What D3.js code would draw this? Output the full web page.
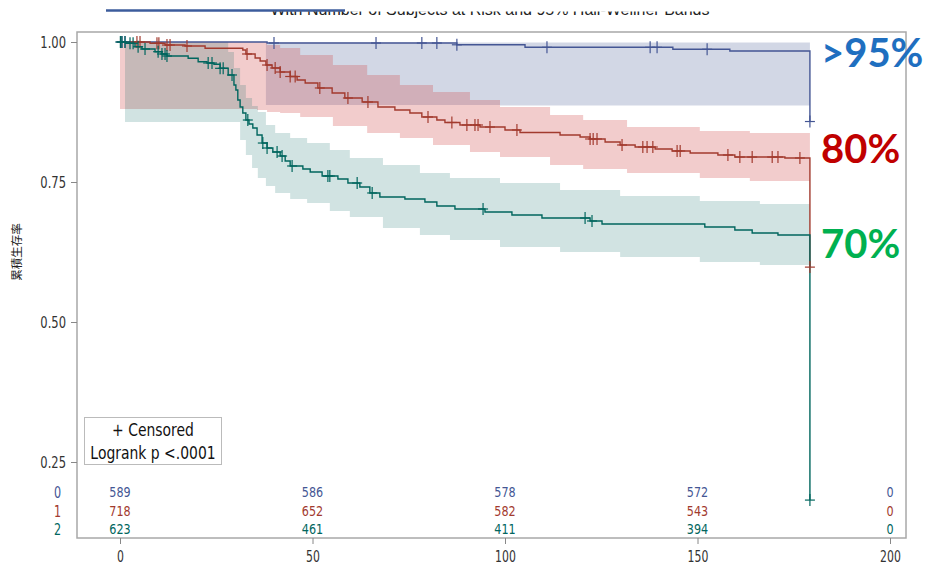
<!DOCTYPE html>
<html>
<head>
<meta charset="utf-8">
<script src="https://cdn.jsdelivr.net/npm/d3@7"></script>
<style>
  html, body { margin: 0; padding: 0; background: #fff; }
  svg { display: block; }
</style>
</head>
<body>
<svg id="chart" width="928" height="567"></svg>
<script>
// Kaplan-Meier survival by group, with 95% Hall-Wellner bands and numbers at risk.
const groups = ["0", "1", "2"];
const groupColors = ["#445694", "#A23A2E", "#01665E"];
const bandColors = ["#445694", "#D04848", "#01665E"];
const bandOpacity = [0.24, 0.28, 0.18];

// Step curves: [time, survival after the step]
const steps0 = [[0, 1.0], [38.2, 0.9982], [87.5, 0.995], [105.2, 0.9905], [143.6, 0.987], [158.4, 0.984], [179.2, 0.858]];
const steps1 = [[0, 1.0], [7.8, 0.9977], [11.7, 0.9946], [16.9, 0.9929], [22.1, 0.9888], [31.9, 0.9857], [32.7, 0.9786],
  [35.1, 0.9714], [36.4, 0.9661], [37.9, 0.9589], [39.5, 0.9536], [41.6, 0.9464], [44.2, 0.9384], [46.0, 0.9321],
  [48.1, 0.9268], [51.4, 0.9179], [55.1, 0.9089], [58.4, 0.9], [62.9, 0.8929], [67.0, 0.8839], [71.4, 0.8786],
  [75.3, 0.8732], [78.4, 0.8661], [82.3, 0.8607], [84.4, 0.8563], [88.3, 0.8518], [93.5, 0.8482], [100.0, 0.8429],
  [103.9, 0.8384], [114.3, 0.8339], [119.5, 0.8304], [122.1, 0.8268], [126.0, 0.8214], [129.9, 0.8161],
  [133.8, 0.8125], [139.0, 0.8089], [143.4, 0.8054], [148.1, 0.8018], [155.3, 0.7982], [159.7, 0.7946],
  [172.7, 0.7929], [179.2, 0.598]];
const steps2 = [[0, 1.0], [1.8, 0.9977], [3.9, 0.9916], [5.7, 0.9875], [9.1, 0.9827], [10.9, 0.9786], [12.2, 0.975],
  [17.7, 0.9709], [20.3, 0.9648], [22.6, 0.9625], [24.4, 0.9602], [26.0, 0.953], [28.1, 0.9411], [29.6, 0.9232],
  [30.1, 0.9143], [30.6, 0.8964], [31.2, 0.8839], [31.9, 0.8732], [32.7, 0.8607], [33.5, 0.8536], [34.5, 0.8464],
  [35.6, 0.8339], [36.9, 0.8196], [38.2, 0.8107], [39.7, 0.8036], [41.6, 0.7964], [42.9, 0.7875], [44.2, 0.7786],
  [47.5, 0.7732], [49.4, 0.7679], [52.5, 0.7607], [56.6, 0.7554], [59.2, 0.7482], [62.3, 0.7411], [64.9, 0.7304],
  [67.5, 0.7232], [74.0, 0.7196], [79.2, 0.7143], [82.3, 0.7071], [87.0, 0.7018], [94.8, 0.6964], [101.8, 0.6911],
  [109.6, 0.6857], [122.1, 0.6804], [125.2, 0.675], [151.9, 0.6696], [159.7, 0.6643], [164.2, 0.6589],
  [170.9, 0.6554], [179.2, 0.182]];

// Censoring times per group
const censor0 = [0.2, 0.5, 1.3, 40.0, 66.5, 78.4, 82.3, 87.5, 110.9, 137.7, 139.5, 152.5, 179.2];
const censor1 = [4.4, 5.2, 9.6, 10.1, 12.2, 13.0, 17.4, 33.0, 38.2, 40.3, 41.6, 44.2, 45.5, 51.9, 59.2, 64.4, 80.0,
  86.2, 90.1, 92.2, 93.0, 96.1, 103.1, 122.1, 122.9, 123.9, 130.4, 135.8, 136.9, 138.4, 144.7, 145.5, 157.9,
  161.0, 164.2, 169.4, 170.9, 176.6, 179.2];
const censor2 = [0.1, 0.5, 1.3, 2.6, 3.4, 4.7, 6.5, 9.9, 10.9, 11.7, 12.2, 22.9, 23.9, 26.0, 26.8, 29.1, 33.2, 37.1,
  38.2, 40.8, 42.1, 44.7, 54.0, 54.5, 61.6, 65.5, 94.3, 120.8, 122.6, 179.2];

// Hall-Wellner bands: [time, lower, upper]
const band0 = [[37.9, 0.8875, 0.999], [98.7, 0.8866, 0.999], [179.2, 0.8857, 0.998]];
const band1 = [[0, 0.8804, 1.0], [31.2, 0.8804, 1.0], [35.6, 0.8786, 1.0], [38.2, 0.875, 0.9946], [41.6, 0.8732, 0.9893],
  [46.8, 0.8661, 0.9768], [55.3, 0.85, 0.9589], [64.2, 0.8375, 0.9411], [72.7, 0.8286, 0.9232], [81.3, 0.8161, 0.9107],
  [90.9, 0.8036, 0.8964], [98.7, 0.7946, 0.8839], [111.7, 0.7804, 0.8696], [120.3, 0.7732, 0.8607],
  [131.7, 0.7661, 0.8482], [150.6, 0.7571, 0.8411], [163.6, 0.7518, 0.8375], [179.2, 0.7446, 0.8339]];
const band2 = [[1.3, 0.8571, 1.0], [26.5, 0.8571, 1.0], [28.1, 0.8571, 0.9821], [29.6, 0.8571, 0.9536],
  [31.2, 0.825, 0.9232], [32.7, 0.7982, 0.9], [34.3, 0.775, 0.8857], [35.8, 0.7571, 0.875], [37.9, 0.7429, 0.8518],
  [40.3, 0.7304, 0.8375], [44.2, 0.7196, 0.8286], [48.6, 0.7125, 0.8196], [54.5, 0.6982, 0.8071],
  [59.7, 0.6875, 0.7929], [68.3, 0.6679, 0.7804], [77.9, 0.6554, 0.7661], [85.7, 0.6464, 0.7571],
  [98.7, 0.6339, 0.7482], [114.3, 0.625, 0.7357], [129.9, 0.6161, 0.725], [150.6, 0.6071, 0.7161],
  [166.2, 0.6018, 0.7107], [179.2, 0.5982, 0.7054]];

// Numbers at risk
const riskTimes = [0, 50, 100, 150, 200];
const risk0 = [589, 586, 578, 572, 0];
const risk1 = [718, 652, 582, 543, 0];
const risk2 = [623, 461, 411, 394, 0];

const xTicks = [0, 50, 100, 150, 200];
const yTicks = [0.25, 0.5, 0.75, 1.0];
const yTickLabels = ["0.25", "0.50", "0.75", "1.00"];

const endLabels = [">95%", "80%", "70%"];
const endLabelColors = ["#1F6FC0", "#C00000", "#00B050"];

const titleText = "With Number of Subjects at Risk and 95% Hall-Wellner Bands";
const yLabel = "累積生存率";
const legendLines = ["+ Censored", "Logrank p <.0001"];

const stepsAll = [steps0, steps1, steps2];
const censorAll = [censor0, censor1, censor2];
const bandAll = [band0, band1, band2];
const riskAll = [risk0, risk1, risk2];

const svg = d3.select("#chart");
const frame = { left: 77, top: 32, right: 906, bottom: 538 };
const FONT = "DejaVu Sans, sans-serif";

const x = d3.scaleLinear().domain([0, 200]).range([120, 890]);
const y = d3.scaleLinear().domain([0.25, 1.0]).range([462, 42]);

// Condensed text: drawn at (tx, ty) and squeezed horizontally
function narrowText(parent, tx, ty, str, size, sx, anchor, color) {
  return parent.append("text")
    .attr("transform", `translate(${tx},${ty}) scale(${sx},1)`)
    .attr("text-anchor", anchor)
    .attr("font-family", FONT).attr("font-size", size)
    .attr("fill", color).text(str);
}

// Title (its upper part lies above the page)
svg.append("clipPath").attr("id", "titleClip")
  .append("rect").attr("x", 0).attr("y", 11.5).attr("width", 928).attr("height", 10);
svg.append("line")
  .attr("x1", 106).attr("x2", 345).attr("y1", 10.5).attr("y2", 10.5)
  .attr("stroke", "#3C5C9C").attr("stroke-width", 2.5);
svg.append("text")
  .attr("clip-path", "url(#titleClip)")
  .attr("x", 490).attr("y", 15).attr("text-anchor", "middle")
  .attr("font-family", "Liberation Sans, Arial, sans-serif").attr("font-size", 16)
  .attr("fill", "#222").text(titleText);

// Bands
const bandArea = d3.area()
  .curve(d3.curveStepAfter)
  .x(d => x(d[0]))
  .y0(d => y(d[1]))
  .y1(d => y(d[2]));
bandAll.forEach((b, i) => {
  svg.append("path").datum(b)
    .attr("d", bandArea)
    .attr("fill", bandColors[i]).attr("fill-opacity", bandOpacity[i])
    .attr("stroke", "none");
});

// Survival curves
const stepLine = d3.line().curve(d3.curveStepAfter).x(d => x(d[0])).y(d => y(d[1]));
stepsAll.forEach((s, i) => {
  svg.append("path").datum(s)
    .attr("d", stepLine)
    .attr("fill", "none").attr("stroke", groupColors[i]).attr("stroke-width", 1.4);
});

function survivalAt(s, t) {
  let v = s[0][1];
  for (const p of s) { if (p[0] <= t + 1e-9) v = p[1]; else break; }
  return v;
}

// Censor marks
censorAll.forEach((c, i) => {
  const g = svg.append("g").attr("stroke", groupColors[i]).attr("stroke-width", 1.2);
  c.forEach(t => {
    const cx = x(t), cy = y(survivalAt(stepsAll[i], t));
    g.append("line").attr("x1", cx).attr("x2", cx).attr("y1", cy - 6).attr("y2", cy + 6);
    g.append("line").attr("x1", cx - 5).attr("x2", cx + 5).attr("y1", cy).attr("y2", cy);
  });
});

// Frame
svg.append("rect")
  .attr("x", frame.left).attr("y", frame.top)
  .attr("width", frame.right - frame.left).attr("height", frame.bottom - frame.top)
  .attr("fill", "none").attr("stroke", "#A8A8A8").attr("stroke-width", 1.5);

// Y axis
const ySx = 0.7;
const yAxis = d3.axisLeft(y).tickValues(yTicks).tickSize(6).tickPadding(5)
  .tickFormat((d, i) => yTickLabels[i]);
const yg = svg.append("g").attr("transform", `translate(${frame.left},0)`).call(yAxis);
yg.select(".domain").remove();
yg.selectAll(".tick line").attr("stroke", "#888");
yg.selectAll(".tick text")
  .attr("font-family", FONT).attr("font-size", 16.5).attr("fill", "#333")
  .attr("x", -11 / ySx).attr("transform", `scale(${ySx},1)`);

// X axis
const xSx = 0.68;
const xAxis = d3.axisBottom(x).tickValues(xTicks).tickSize(6).tickPadding(7);
const xg = svg.append("g").attr("transform", `translate(0,${frame.bottom})`).call(xAxis);
xg.select(".domain").remove();
xg.selectAll(".tick line").attr("stroke", "#888");
xg.selectAll(".tick text")
  .attr("font-family", FONT).attr("font-size", 16).attr("fill", "#333")
  .attr("transform", `scale(${xSx},1)`);

// Y label
svg.append("text")
  .attr("transform", "translate(21,252) rotate(-90)")
  .attr("text-anchor", "middle")
  .attr("font-family", "Noto Sans CJK JP, sans-serif").attr("font-size", 11.5)
  .attr("fill", "#222").text(yLabel);

// Numbers at risk
const rowY = [492, 511, 529];
groups.forEach((gname, i) => {
  narrowText(svg, 61, rowY[i] + 5.5, gname, 16, 0.7, "end", groupColors[i]);
  riskAll[i].forEach((v, j) => {
    narrowText(svg, x(riskTimes[j]), rowY[i] + 5, v, 14, 0.8, "middle", groupColors[i]);
  });
});

// Legend box
const lg = svg.append("g");
lg.append("rect").attr("x", 84.5).attr("y", 417.5).attr("width", 137).attr("height", 47)
  .attr("fill", "#fff").attr("stroke", "#BBB");
legendLines.forEach((t, i) => {
  narrowText(lg, 153, 436 + i * 23, t, 17, 0.82, "middle", "#111");
});

// End-of-curve percentage labels (baselines beside each curve's end)
const endLabelBaseline = [67, 163, 258];
endLabels.forEach((t, i) => {
  svg.append("text")
    .attr("x", 821).attr("y", endLabelBaseline[i])
    .attr("font-family", "Lato, 'Open Sans', sans-serif").attr("font-weight", 700)
    .attr("font-size", 40).attr("fill", endLabelColors[i]).text(t);
});
</script>
</body>
</html>
